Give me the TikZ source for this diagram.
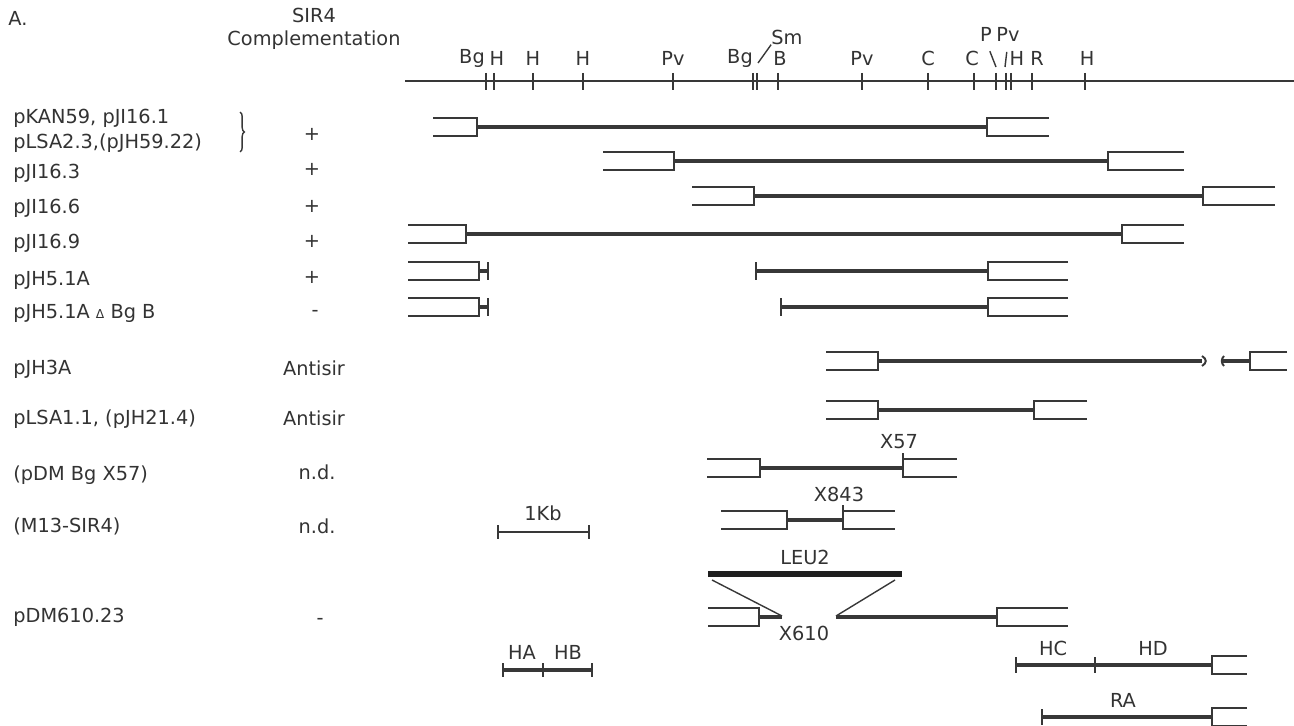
\documentclass[tikz,border=0pt]{standalone}
\usepackage{fontspec}
\setmainfont{DejaVu Sans}
\usetikzlibrary{decorations.pathreplacing,calc}

\begin{document}
\begin{tikzpicture}[
  x=0.02cm, y=-0.02cm,
  font=\fontsize{11}{13}\selectfont,
  lbl/.style  = {inner sep=0pt, text=black!80},
  ins/.style  = {line width=1.8pt, black!78},
  vec/.style  = {line width=1.1pt, black!78},
  mapl/.style = {line width=1.1pt, black!78},
  thn/.style  = {line width=0.8pt, black!78},
  lea/.style  = {line width=3.2pt, black!88},
]

\useasboundingbox (0,0) rectangle (1294,726);

\def\bh{9}
\def\ym{81}

% header
\node[lbl] (panel) at (18,18) {A.};
\node[lbl] (sir)   at (314,15) {SIR4};
\node[lbl] (compl) at (314,40) {Complementation};

% restriction map
\draw[mapl] (405,\ym) -- (1294,\ym);
\foreach \xs in {486,494,533,583,673,753,757,778,862,928,974,996,1006,1011,1032,1085}
  \draw[mapl] (\xs,\ym-8) -- (\xs,\ym+9);

\foreach \xl/\txt [count=\i] in {472/Bg,497/H,533/H,583/H,673/Pv,740/Bg,780/B,
    862/Pv,928/C,972/C,1017/H,1037/R,1087/H}
  \node[lbl] (site\i) at (\xl,58) {\txt};
\node[lbl] (sm)  at (787,37) {Sm};
\node[lbl] (pst) at (986,34) {P};
\node[lbl] (pvu) at (1008,34) {Pv};

\coordinate (bgcut) at (758,63);
\coordinate (pcut)  at (996,67);
\coordinate (pvcut) at (1005,67);
\draw[thn] (sm.south west) -- (bgcut);
\draw[thn,shorten <=6pt] (pst.south) -- (pcut);
\draw[thn,shorten <=6pt] (pvu.south) -- (pvcut);

% clone names
\node[lbl,anchor=west] (c1)  at (13,118) {pKAN59, pJI16.1};
\node[lbl,anchor=west] (c2)  at (13,143) {pLSA2.3,(pJH59.22)};
\node[lbl,anchor=west] (c3)  at (13,173) {pJI16.3};
\node[lbl,anchor=west] (c4)  at (13,208) {pJI16.6};
\node[lbl,anchor=west] (c5)  at (13,243) {pJI16.9};
\node[lbl,anchor=west] (c6)  at (13,280) {pJH5.1A};
\node[lbl,anchor=west] (c7)  at (13,313)
  {pJH5.1A {\fontsize{7}{8}\selectfont Δ} Bg B};
\node[lbl,anchor=west] (c8)  at (13,369) {pJH3A};
\node[lbl,anchor=west] (c9)  at (13,419) {pLSA1.1, (pJH21.4)};
\node[lbl,anchor=west] (c10) at (13,475) {(pDM Bg X57)};
\node[lbl,anchor=west] (c11) at (13,526) {(M13-SIR4)};
\node[lbl,anchor=west] (c12) at (13,617) {pDM610.23};

\draw[thn,decorate,decoration={brace,amplitude=2.5pt}] (240,112) -- (240,152);

% complementation
\foreach \yc [count=\i] in {134,169,206,241,277}
  \node[lbl] (plus\i) at (312,\yc) {+};
\node[lbl] (minus1) at (315,313) {-};
\node[lbl] (anti1)  at (314,368) {Antisir};
\node[lbl] (anti2)  at (314,418) {Antisir};
\node[lbl] (nd1)    at (317,472) {n.d.};
\node[lbl] (nd2)    at (317,526) {n.d.};
\node[lbl] (minus2) at (320,621) {-};

% inserts with vector arms
\foreach \xa/\xb/\xc/\xd/\y in {433/477/987/1049/127, 603/674/1108/1184/161,
    692/754/1203/1275/196, 408/466/1122/1184/234, 826/878/1034/1087/410}{
  \draw[vec] (\xa,\y-\bh) -- (\xb,\y-\bh) -- (\xb,\y+\bh) -- (\xa,\y+\bh);
  \draw[ins] (\xb,\y) -- (\xc,\y);
  \draw[vec] (\xd,\y-\bh) -- (\xc,\y-\bh) -- (\xc,\y+\bh) -- (\xd,\y+\bh);
}

\foreach \xi/\y in {756/271, 781/307}{
  \draw[vec] (408,\y-\bh) -- (479,\y-\bh) -- (479,\y+\bh) -- (408,\y+\bh);
  \draw[ins] (479,\y) -- (488,\y);
  \draw[vec] (488,\y-\bh) -- (488,\y+\bh) (\xi,\y-\bh) -- (\xi,\y+\bh);
  \draw[ins] (\xi,\y) -- (988,\y);
  \draw[vec] (1068,\y-\bh) -- (988,\y-\bh) -- (988,\y+\bh) -- (1068,\y+\bh);
}

% pJH3A, broken insert
\def\yr{361}
\draw[vec] (826,\yr-\bh) -- (878,\yr-\bh) -- (878,\yr+\bh) -- (826,\yr+\bh);
\draw[ins] (878,\yr) -- (1202,\yr);
\draw[vec] (1202,\yr-5) .. controls (1207,\yr-2) and (1207,\yr+2) .. (1202,\yr+5);
\draw[vec] (1224,\yr-5) .. controls (1221,\yr-2) and (1221,\yr+2) .. (1224,\yr+5);
\draw[ins] (1223,\yr) -- (1250,\yr);
\draw[vec] (1287,\yr-\bh) -- (1250,\yr-\bh) -- (1250,\yr+\bh) -- (1287,\yr+\bh);

% deletion end points
\foreach \xa/\xb/\xc/\xd/\y/\nm/\txt in {707/760/903/957/468/x57/X57,
    721/787/843/895/520/x843/X843}{
  \draw[vec] (\xa,\y-\bh) -- (\xb,\y-\bh) -- (\xb,\y+\bh) -- (\xa,\y+\bh);
  \draw[ins] (\xb,\y) -- (\xc,\y);
  \draw[vec] (\xc,\y-15) -- (\xc,\y+\bh) -- (\xd,\y+\bh) (\xc,\y-\bh) -- (\xd,\y-\bh);
  \node[lbl] (\nm) at (\xc-4,\y-26) {\txt};
}

% scale
\draw[vec] (498,532) -- (589,532) (498,525) -- (498,539) (589,525) -- (589,539);
\node[lbl] (kb) at (543,513) {1Kb};

% LEU2 insertion
\draw[lea] (708,574) -- (902,574);
\node[lbl] (leu) at (805,557) {LEU2};
\def\yx{617}
\draw[vec] (708,\yx-\bh) -- (759,\yx-\bh) -- (759,\yx+\bh) -- (708,\yx+\bh);
\draw[ins] (759,\yx) -- (782,\yx);
\draw[ins] (836,\yx) -- (997,\yx);
\draw[vec] (1068,\yx-\bh) -- (997,\yx-\bh) -- (997,\yx+\bh) -- (1068,\yx+\bh);
\coordinate (ll) at (712,580);
\coordinate (lr) at (895,580);
\coordinate (xl) at (782,\yx-1);
\coordinate (xr) at (836,\yx-1);
\draw[thn] (ll) -- (xl);
\draw[thn] (lr) -- (xr);
\node[lbl] (x610) at (804,633) {X610};

% probes
\draw[ins] (503,670) -- (592,670);
\foreach \xt in {503,543,592}
  \draw[vec] (\xt,663) -- (\xt,677);
\node[lbl] (ha) at (522,652) {HA};
\node[lbl] (hb) at (568,652) {HB};

\draw[ins] (1016,665) -- (1212,665);
\foreach \xt in {1016,1095}
  \draw[vec] (\xt,657) -- (\xt,673);
\draw[vec] (1247,665-\bh) -- (1212,665-\bh) -- (1212,665+\bh) -- (1247,665+\bh);
\node[lbl] (hc) at (1053,648) {HC};
\node[lbl] (hd) at (1153,648) {HD};

\draw[ins] (1042,717) -- (1212,717);
\draw[vec] (1042,709) -- (1042,725);
\draw[vec] (1247,717-\bh) -- (1212,717-\bh) -- (1212,717+\bh) -- (1247,717+\bh);
\node[lbl] (ra) at (1123,700) {RA};

\end{tikzpicture}
\end{document}
